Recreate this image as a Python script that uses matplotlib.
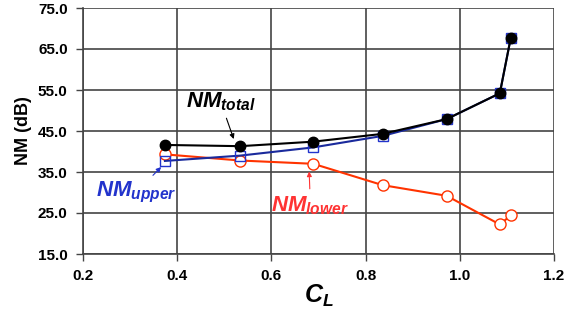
import matplotlib
matplotlib.use("Agg")
import matplotlib.pyplot as plt

plt.rcParams["font.family"] = ["Liberation Sans", "DejaVu Sans"]
plt.rcParams["mathtext.fontset"] = "custom"
plt.rcParams["mathtext.it"] = "Liberation Sans:bold:italic"
plt.rcParams["mathtext.rm"] = "Liberation Sans:bold"
plt.rcParams["mathtext.bf"] = "Liberation Sans:bold:italic"

# ─── Data ───────────────────────────────────────────────────────────────────
cl = [0.374, 0.534, 0.689, 0.836, 0.972, 1.085, 1.108]
nm_total = [41.6, 41.3, 42.4, 44.3, 47.9, 54.2, 67.6]
nm_upper = [37.7, 39.0, 41.0, 43.8, 47.9, 54.2, 67.6]
nm_lower = [39.3, 37.8, 37.0, 31.8, 29.2, 22.2, 24.4]

x_ticks = [0.2, 0.4, 0.6, 0.8, 1.0, 1.2]
y_ticks = [15.0, 25.0, 35.0, 45.0, 55.0, 65.0, 75.0]

fig = plt.figure(figsize=(5.67, 3.13), dpi=100)
ax = fig.add_axes([83 / 567, 1 - 254 / 313, (554 - 83) / 567, (254 - 8) / 313])

ax.plot(cl, nm_lower, color="#ff3300", linewidth=1.5, marker="o",
        markersize=8, markerfacecolor="white", markeredgecolor="#ff3300",
        markeredgewidth=1.0, zorder=3)
ax.plot(cl, nm_upper, color="#1a2a9c", linewidth=1.5, marker="s",
        markersize=7, markerfacecolor="none", markeredgecolor="#2233cc",
        markeredgewidth=1.0, zorder=4)
ax.plot(cl, nm_total, color="black", linewidth=1.5, marker="o",
        markersize=7.5, markerfacecolor="black", markeredgecolor="black",
        zorder=5)

ax.set_xlim(0.2, 1.2)
ax.set_ylim(15, 75)
ax.set_xticks(x_ticks)
ax.set_yticks(y_ticks)
ax.set_xticklabels([f"{v:.1f}" for v in x_ticks], fontsize=11, fontweight="bold")
ax.set_yticklabels([f"{v:.1f}" for v in y_ticks], fontsize=11, fontweight="bold")
ax.tick_params(direction="out", length=5, width=1, color="#444444", pad=6)
ax.grid(True, color="#444444", linewidth=1.2)
ax.set_axisbelow(True)
for side in ["top", "right"]:
    ax.spines[side].set_visible(False)
ax.spines["left"].set_color("#444444")
ax.spines["bottom"].set_color("#444444")
ax.spines["left"].set_linewidth(1.2)
ax.spines["bottom"].set_linewidth(1.2)

ax.set_ylabel("NM (dB)", fontsize=13, fontweight="bold", labelpad=4)
ax.set_xlabel(r"$C_L$", fontsize=18, labelpad=0)

ax.annotate(r"$NM_{total}$", xy=(0.522, 42.4), xytext=(0.418, 50.8),
            fontsize=16, color="black",
            arrowprops=dict(arrowstyle="-|>", color="black", lw=0.8, mutation_scale=7))
ax.annotate(r"$NM_{upper}$", xy=(0.370, 36.7), xytext=(0.227, 29.0),
            fontsize=16, color="#2233cc",
            arrowprops=dict(arrowstyle="-|>", color="#2233cc", lw=0.8, mutation_scale=7))
ax.annotate(r"$NM_{lower}$", xy=(0.680, 35.8), xytext=(0.600, 25.4),
            fontsize=16, color="#ff3333",
            arrowprops=dict(arrowstyle="-|>", color="#ff3333", lw=0.8, mutation_scale=7))

fig.savefig("out.png", dpi=100)
